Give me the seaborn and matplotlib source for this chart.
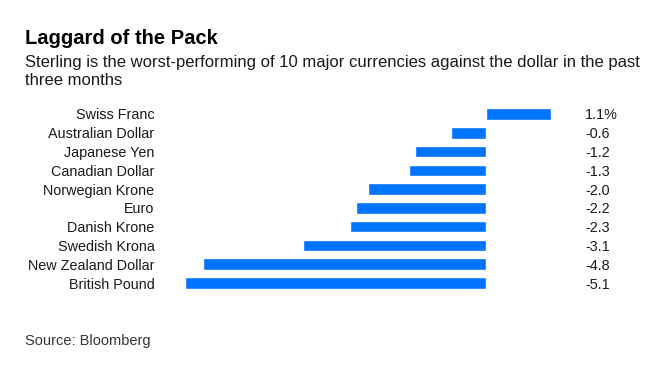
import matplotlib
matplotlib.use("Agg")
import pandas as pd
import seaborn as sns
import matplotlib.pyplot as plt
import matplotlib.transforms as mtransforms

currencies = [
    "Swiss Franc",
    "Australian Dollar",
    "Japanese Yen",
    "Canadian Dollar",
    "Norwegian Krone",
    "Euro",
    "Danish Krone",
    "Swedish Krona",
    "New Zealand Dollar",
    "British Pound",
]
change = [1.1, -0.6, -1.2, -1.3, -2.0, -2.2, -2.3, -3.1, -4.8, -5.1]
value_labels = ["1.1%", "-0.6", "-1.2", "-1.3", "-2.0", "-2.2", "-2.3", "-3.1", "-4.8", "-5.1"]

df = pd.DataFrame({"currency": currencies, "change": change})

sns.set_theme(style="white")
plt.rcParams["font.family"] = ["Liberation Sans", "DejaVu Sans"]

fig = plt.figure(figsize=(6.71, 3.75), dpi=100)
ax = fig.add_axes([185 / 671, 1 - 292.4 / 375, (551 - 185) / 671, (292.4 - 104.6) / 375])

sns.barplot(data=df, x="change", y="currency", orient="h", color="#0073ff",
            saturation=1, width=0.62, ax=ax)

ax.set_xlim(-5.1, 1.1)
ax.set_ylim(9.5, -0.5)
ax.set_xlabel("")
ax.set_ylabel("")
ax.set_xticks([])
ax.tick_params(axis="y", length=0, pad=22, labelsize=10.4, labelcolor="#1a1a1a")
for lab in ax.get_yticklabels():
    lab.set_verticalalignment("center_baseline")
for s in ax.spines.values():
    s.set_visible(False)

trans = mtransforms.blended_transform_factory(fig.transFigure, ax.transData)
for i, lab in enumerate(value_labels):
    ax.text(585 / 671, i, lab, transform=trans, ha="left", va="center_baseline",
            fontsize=10.4, color="#1a1a1a")

fig.text(25 / 671, 1 - 38 / 375, "Laggard of the Pack", fontsize=14.5,
         fontweight="bold", ha="left", va="center", color="black")
fig.text(25 / 671, 1 - 55 / 375,
         "Sterling is the worst-performing of 10 major currencies against the dollar in the past\nthree months",
         fontsize=12, ha="left", va="top", color="#1a1a1a", linespacing=1.22)
fig.text(25 / 671, 1 - 341 / 375, "Source: Bloomberg", fontsize=10.5,
         ha="left", va="center", color="#333333")

fig.savefig("out.png", dpi=100)
